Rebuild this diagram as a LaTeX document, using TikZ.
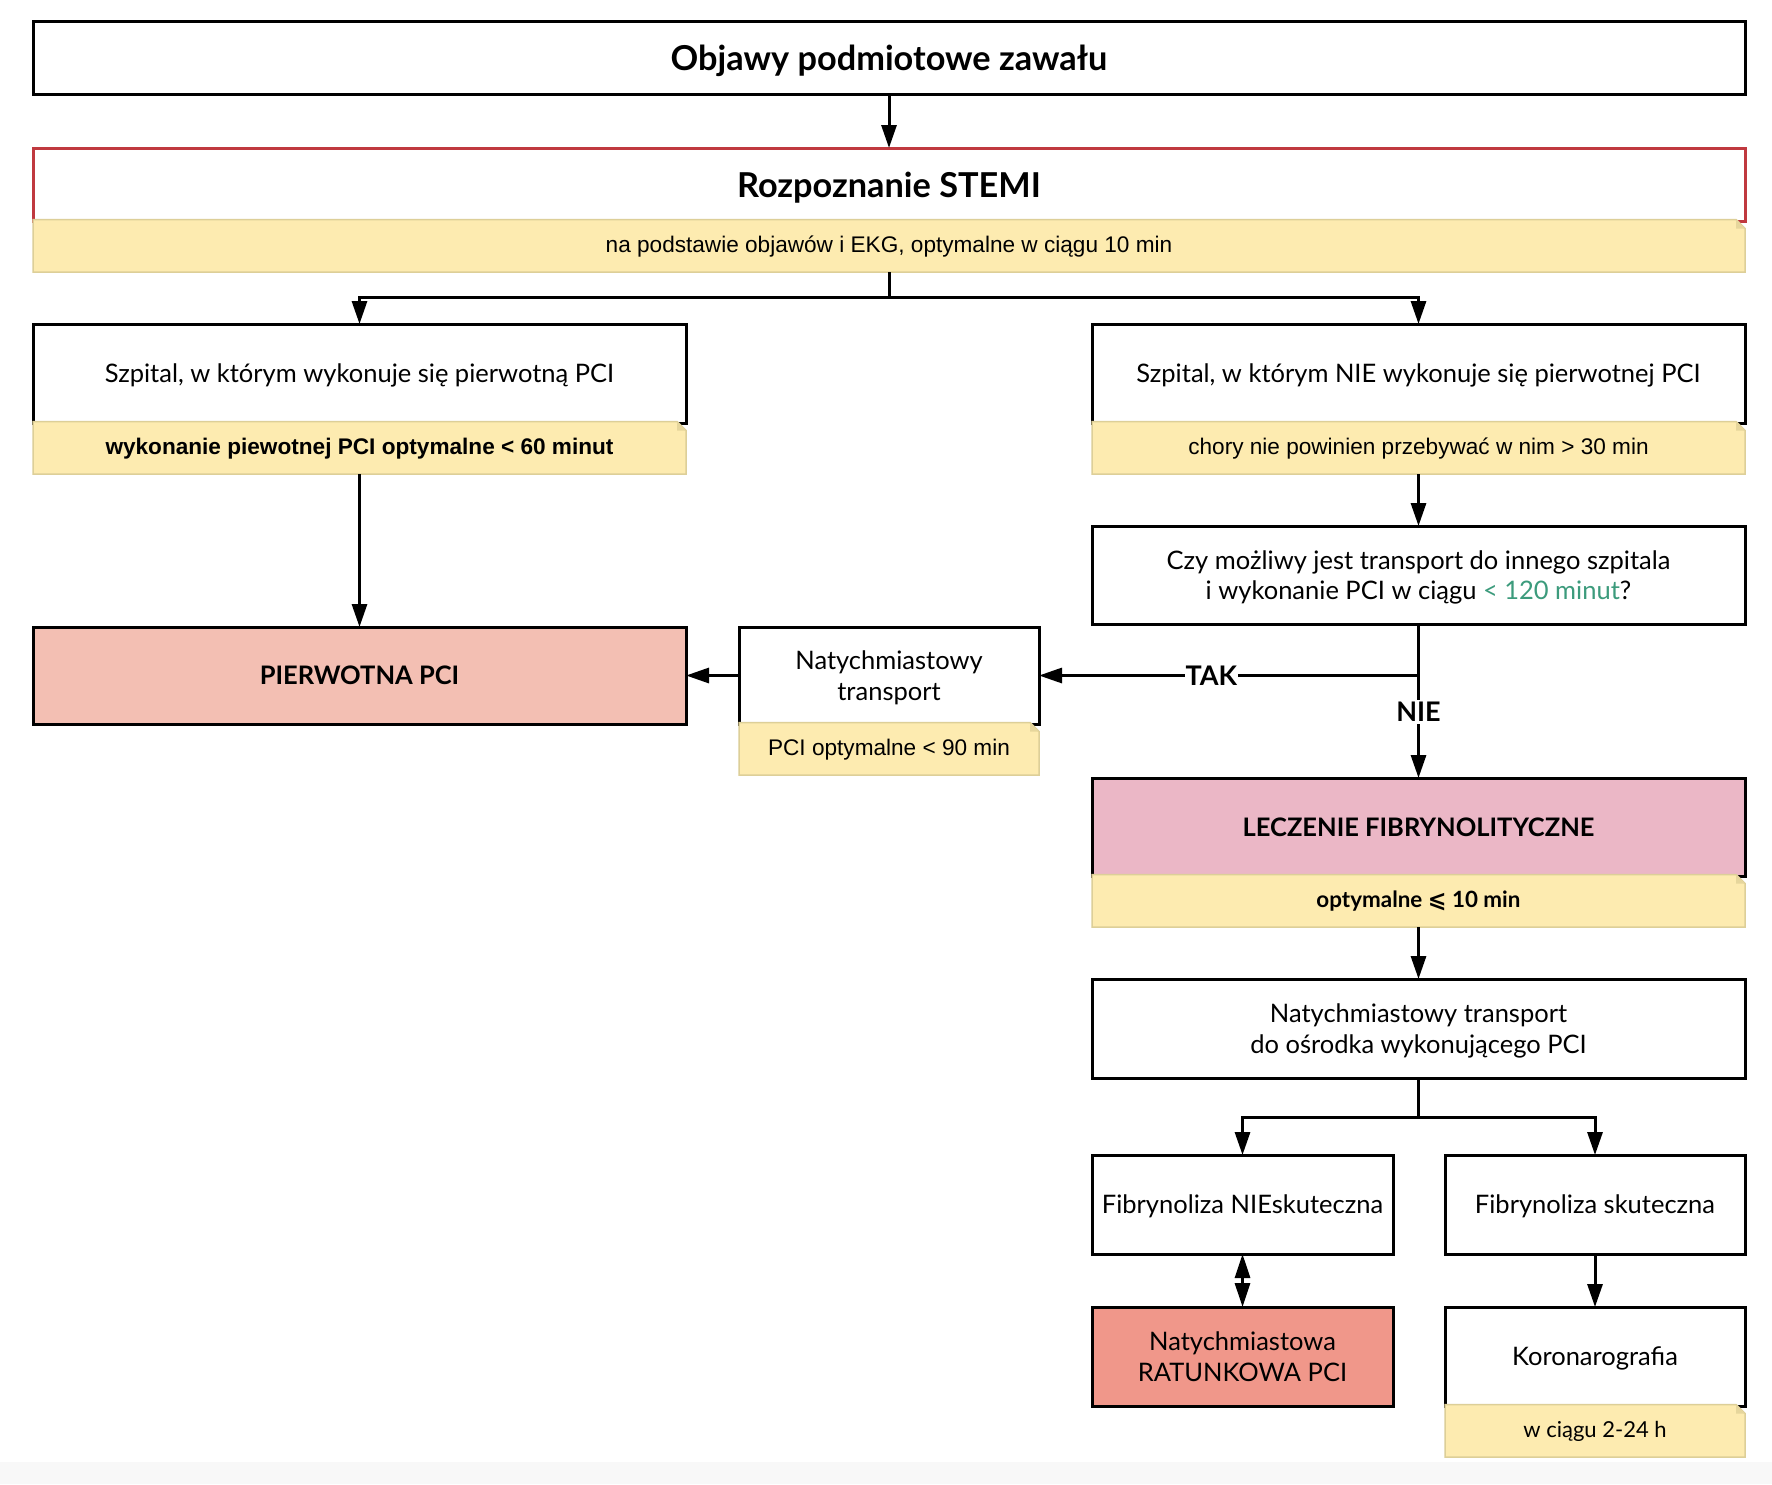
\documentclass[tikz,border=0pt]{standalone}
\usepackage{fontspec}
\setmainfont{Lato}
\newfontfamily\arialf{Liberation Sans}
\newfontfamily\dejavuf{DejaVu Sans}
\usetikzlibrary{arrows.meta,calc}
\definecolor{notefill}{HTML}{FDEBB0}
\definecolor{notedraw}{HTML}{DDCF98}
\definecolor{foldcol}{HTML}{E6D69C}
\definecolor{stemired}{HTML}{C0393F}
\definecolor{ppfill}{HTML}{F3BFB3}
\definecolor{lffill}{HTML}{EBB7C6}
\definecolor{ratfill}{HTML}{F0978A}
\definecolor{tgreen}{HTML}{3C9B7C}
\definecolor{bandgray}{HTML}{F8F8F8}
\newcommand\mynote[4]{%
  \path[fill=notefill, draw=notedraw, line width=1.5pt]
    ($(#1.south west)+(0,-1.5)$) -- ($(#1.south east)+(-9,-1.5)$) --
    ($(#1.south east)+(0,7.5)$) -- ($(#1.south east)+(0,51)$) --
    ($(#1.south west)+(0,51)$) -- cycle;
  \fill[foldcol] ($(#1.south east)+(-9,-1.5)$) -- ($(#1.south east)+(-9,7.5)$) --
    ($(#1.south east)+(0,7.5)$) -- cycle;
  \node[inner sep=0pt, outer sep=0pt, minimum height=51pt, font={#3}] (#2)
    at ($(#1.south)+(0,25.5)$) {#4};
}
\begin{document}
\begin{tikzpicture}[x=1pt,y=-1pt,
  box/.style={draw=black, line width=3pt, fill=white, inner sep=0pt, outer sep=0pt,
    align=center, text depth=0pt, font=\fontsize{25.5}{30.5}\selectfont},
  boldbox/.style={box, font=\bfseries\fontsize{25.5}{30.5}\selectfont},
  titlebox/.style={box, font=\bfseries\fontsize{34.3}{40}\selectfont},
  wide/.style={minimum width=1712pt},
  half/.style={minimum width=653pt},
  narrow/.style={minimum width=301pt},
  notefont/.style={},
  conn/.style={line width=3pt, draw=black},
  arr/.style={conn, -{Triangle[length=23pt,width=15pt]}},
  darr/.style={conn, {Triangle[length=24pt,width=15pt]}-{Triangle[length=24pt,width=15pt]}},
  lbl/.style={fill=white, inner xsep=1pt, inner ysep=2pt, font=\bfseries\fontsize{27}{30}\selectfont},
]
\useasboundingbox (0,0) rectangle (1772,1484);
\fill[white] (0,0) rectangle (1772,1484);
\fill[bandgray] (0,1462) rectangle (1772,1484);

% boxes
\node[titlebox, wide, minimum height=73pt] (top) at (889,57.5) {Objawy podmiotowe zawału};
\node[titlebox, wide, minimum height=73pt, draw=stemired] (stemi) at (889,184.5) {Rozpoznanie STEMI};
\mynote{stemi}{n0}{\arialf\fontsize{22.6}{26}\selectfont}{na podstawie objawów i EKG, optymalne w ciągu 10 min}

\node[box, half, minimum height=99pt] (h1) at (359.5,373.5) {Szpital, w którym wykonuje się pierwotną PCI};
\mynote{h1}{n1}{\arialf\bfseries\fontsize{22.6}{26}\selectfont}{wykonanie piewotnej PCI optymalne < 60 minut}

\node[box, half, minimum height=99pt] (h2) at (1418.5,373.5) {Szpital, w którym NIE wykonuje się pierwotnej PCI};
\mynote{h2}{n2}{\arialf\fontsize{22.6}{26}\selectfont}{chory nie powinien przebywać w nim > 30 min}

\node[box, half, minimum height=98pt] (q) at (1418.5,575) {Czy możliwy jest transport do innego szpitala\\i wykonanie PCI w ciągu {\color{tgreen}< 120 minut}?};

\node[boldbox, half, minimum height=97pt, fill=ppfill] (pp) at (359.5,675.5) {PIERWOTNA PCI};

\node[box, minimum width=300pt, minimum height=97pt] (nt) at (889,675.5) {Natychmiastowy\\transport};
\mynote{nt}{n4}{\arialf\fontsize{22.6}{26}\selectfont}{PCI optymalne < 90 min}

\node[boldbox, half, minimum height=98pt, fill=lffill] (lf) at (1418.5,827) {LECZENIE FIBRYNOLITYCZNE};
\mynote{lf}{n3}{\bfseries\fontsize{22.4}{26}\selectfont}{optymalne {\dejavuf\bfseries ⩽} 10 min}

\node[box, half, minimum height=99pt] (nat2) at (1418.5,1028.5) {Natychmiastowy transport\\do ośrodka wykonującego PCI};

\node[box, narrow, minimum height=99pt] (fnie) at (1242.5,1204.5) {Fibrynoliza NIEskuteczna};
\node[box, minimum width=300pt, minimum height=99pt] (fsk) at (1595,1204.5) {Fibrynoliza skuteczna};

\node[box, narrow, minimum height=99pt, fill=ratfill] (rat) at (1242.5,1356.5) {Natychmiastowa\\RATUNKOWA PCI};
\node[box, minimum width=300pt, minimum height=99pt] (kor) at (1595,1356.5) {Koronarografia};
\mynote{kor}{n5}{\fontsize{22}{26}\selectfont}{w ciągu 2-24 h}

% junctions
\coordinate (j1) at (889,297.5);
\coordinate (j2) at (1418.5,675.5);
\coordinate (j3) at (1418.5,1117);

% connectors
\draw[arr] (top.south) -- (stemi.north);
\draw[conn] (n0.south) -- (j1);
\draw[arr] (j1) -| (h1.north);
\draw[arr] (j1) -| (h2.north);
\draw[arr] (n1.south) -- (pp.north);
\draw[arr] (n2.south) -- (q.north);
\draw[arr] (nt.west) -- (pp.east);
\draw[conn] (q.south) -- (j2);
\draw[arr] (j2) -- node[lbl, pos=0.546] {TAK} (nt.east);
\draw[arr] (j2) -- node[lbl, pos=0.356] {NIE} (lf.north);
\draw[arr] (n3.south) -- (nat2.north);
\draw[conn] (nat2.south) -- (j3);
\draw[arr] (j3) -| (fnie.north);
\draw[arr] (j3) -| (fsk.north);
\draw[darr] (fnie.south) -- (rat.north);
\draw[arr] (fsk.south) -- (kor.north);
\end{tikzpicture}
\end{document}
